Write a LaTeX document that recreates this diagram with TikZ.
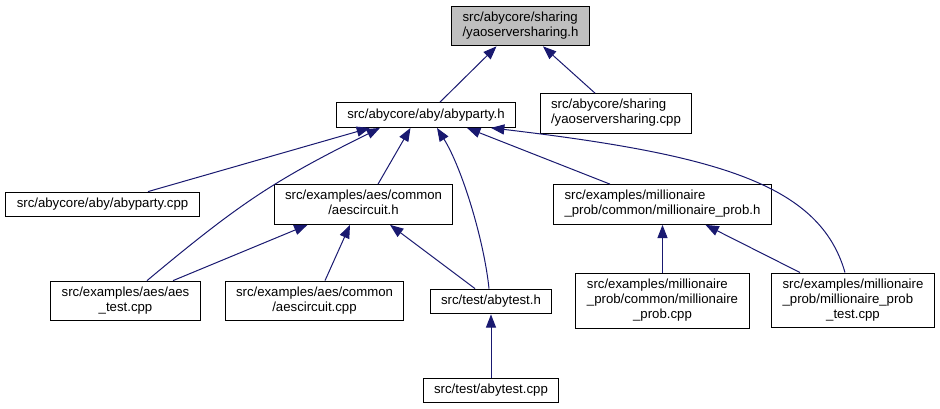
\documentclass[tikz,border=0pt]{standalone}
\usepackage{fontspec}
\setmainfont{Liberation Sans}
\usepackage{tikz}
\usetikzlibrary{arrows.meta, calc}
\definecolor{EdgeBlue}{HTML}{191970}
\definecolor{HeadGray}{HTML}{BFBFBF}
\newcommand{\flines}[2]{\begin{tabular}{@{}l@{}}#1\\\multicolumn{1}{@{}c@{}}{#2}\end{tabular}}

\begin{document}
\begin{tikzpicture}[
          x=0.75pt, y=-0.75pt,
          font=\fontsize{9.9pt}{11.25pt}\selectfont,
          file/.style={draw=black, line width=0.75pt, fill=white, inner xsep=8.25pt, inner ysep=0pt, minimum height=18.6pt},
          twoline/.style={file, minimum height=29.8pt},
          threeline/.style={file, minimum height=41.2pt},
          mainfile/.style={twoline, fill=HeadGray},
          edge/.style={-{Triangle[length=10pt, width=7.6pt]}, line width=0.75pt, color=EdgeBlue}
        ]
          \useasboundingbox (0,0) rectangle (940,409);

          \node[mainfile] (yaoh) at (520.5,26) {\flines{src/abycore/sharing}{/yaoserversharing.h}};
          \node[file] (abyh) at (426,115) {src/abycore/aby/abyparty.h};
          \node[twoline] (yaocpp) at (616,113.5) {\flines{src/abycore/sharing}{/yaoserversharing.cpp}};

          \node[file] (abycpp) at (102.5,204.5) {src/abycore/aby/abyparty.cpp};
          \node[twoline] (aesh) at (363.5,204.5) {\flines{src/examples/aes/common}{/aescircuit.h}};
          \node[twoline] (mph) at (662.5,204.5) {\flines{src/examples/millionaire}{\_prob/common/millionaire\_prob.h}};

          \node[twoline] (aestest) at (125.5,301) {\flines{src/examples/aes/aes}{\_test.cpp}};
          \node[twoline] (aescpp) at (314.5,301) {\flines{src/examples/aes/common}{/aescircuit.cpp}};
          \node[file] (testh) at (491,301.5) {src/test/abytest.h};
          \node[threeline] (mpcpp) at (662.5,301) {\flines{src/examples/millionaire\\\_prob/common/millionaire}{\_prob.cpp}};
          \node[threeline] (mptest) at (853,300.5) {\flines{src/examples/millionaire\\\_prob/millionaire\_prob}{\_test.cpp}};

          \node[file] (testcpp) at (491,390.5) {src/test/abytest.cpp};

          % includes of yaoserversharing.h
          \draw[edge] ($(abyh.north)+(14,0)$) -- ($(yaoh.south)+(-24,0)$);
          \draw[edge] ($(yaocpp.north)+(-21,0)$) -- ($(yaoh.south)+(22.5,0)$);

          % includes of abyparty.h
          \draw[edge] ($(abycpp.north)+(45.5,0)$) -- ($(abyh.south)+(-56,0)$);
          \draw[edge] ($(aestest.north)+(21.5,0)$) .. controls (240.5,202.5) and (275,180) .. ($(abyh.south)+(-46,0)$);
          \draw[edge] ($(aesh.north)+(14.5,0)$) -- ($(abyh.south)+(-15.5,0)$);
          \draw[edge] ($(testh.north)+(-2,0)$) .. controls (484,240) and (462,168) .. ($(abyh.south)+(11,0)$);
          \draw[edge] ($(mph.north)+(-52.5,0)$) -- ($(abyh.south)+(41,0)$);
          \draw[edge] ($(mptest.north)+(-8,0)$) .. controls (820,185) and (720,155) .. ($(abyh.south)+(65,0)$);

          % includes of aescircuit.h
          \draw[edge] ($(aestest.north)+(47.5,0)$) -- ($(aesh.south)+(-56,0)$);
          \draw[edge] ($(aescpp.north)+(10.5,0)$) -- ($(aesh.south)+(-13.5,0)$);
          \draw[edge] ($(testh.north)+(-16,0)$) -- ($(aesh.south)+(26.5,0)$);

          % includes of millionaire_prob.h
          \draw[edge] (mpcpp.north) -- (mph.south);
          \draw[edge] ($(mptest.north)+(-53,0)$) -- ($(mph.south)+(43,0)$);

          % includes of abytest.h
          \draw[edge] (testcpp.north) -- (testh.south);
        \end{tikzpicture}
\end{document}
